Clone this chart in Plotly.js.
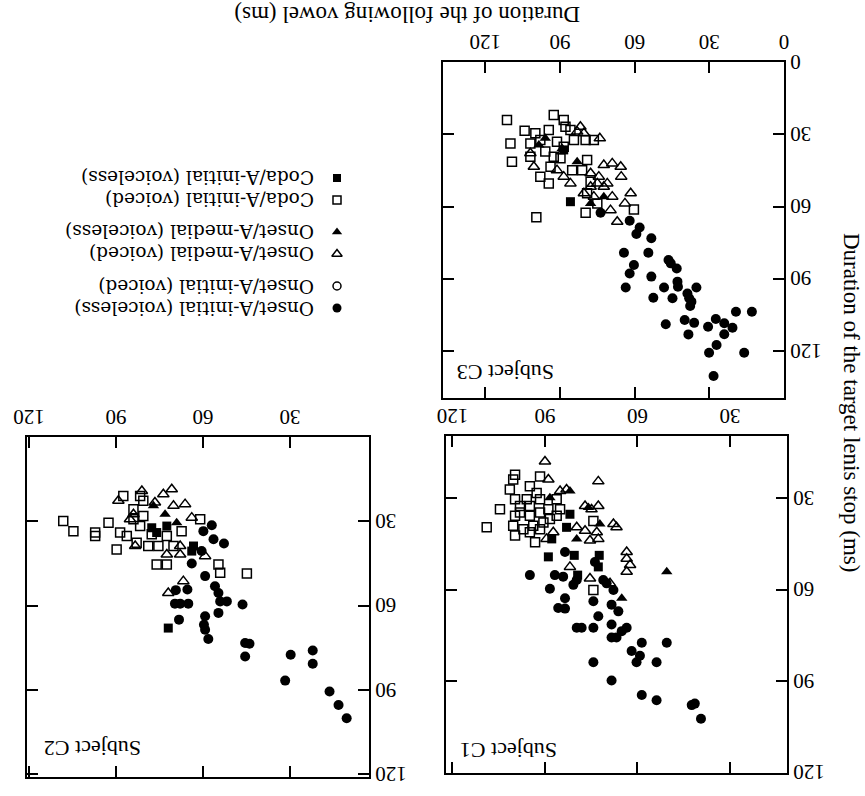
<!DOCTYPE html>
<html>
<head>
<meta charset="utf-8">
<script src="https://cdn.plot.ly/plotly-3.0.1.min.js"></script>
<style>
  html, body { margin: 0; padding: 0; background: white; }
  #chart { width: 865px; height: 796px; transform: rotate(180deg); transform-origin: 50% 50%; }
</style>
</head>
<body>
<div id="chart"></div>
<script>
// ---------------- DATA (x = duration of following vowel, y = duration of lenis stop, ms) ----------------
const categories = [
  "Onset/A-initial (voiceless)",
  "Onset/A-initial (voiced)",
  "Onset/A-medial (voiced)",
  "Onset/A-medial (voiceless)",
  "Coda/A-initial (voiced)",
  "Coda/A-initial (voiceless)"
];
const subjects = ["Subject C1", "Subject C2", "Subject C3"];
const tickVals = [0, 30, 60, 90, 120];

// Subject C1
const c1_onsetInitVoiceless_x = [94.9,88.4,83.5,85.7,83.5,79.7,78.1,74.3,74.3,68.4,68.4,66.8,65.1,63.5,68.4,61.9,60.3,58.6,59.2,53.8,50.5,58.6,53.8,42.4,41.4,39.4,72.7,74.3,68.4,66.2,71.1,70.0,67.8,83.5,86.8,84.1,80.8,79.7,73.8];
const c1_onsetInitVoiceless_y = [55.2,59.7,62.8,66.0,66.2,72.5,72.5,72.5,83.8,89.8,75.7,75.7,73.6,72.5,71.4,80.1,83.8,77.4,81.7,83.8,77.4,94.6,96.3,97.9,97.4,102.4,68.7,63.8,64.9,67.1,56.8,57.9,60.1,47.6,55.2,55.7,58.4,56.8,50.9];
const c1_onsetInitVoiced_x = [];
const c1_onsetInitVoiced_y = [];
const c1_onsetMedVoiced_x = [90.0,72.7,88.9,85.1,83.0,77.0,72.7,74.9,67.8,66.8,79.7,77.0,73.2,72.7,75.4,63.5,63.5,62.4,63.5,75.4,81.9,68.9,89.5,87.3];
const c1_onsetMedVoiced_y = [17.9,24.4,23.8,27.6,27.1,32.5,32.5,33.6,38.4,39.5,39.5,40.6,41.1,43.3,43.8,47.6,49.8,51.9,54.1,56.3,52.5,57.9,43.3,41.1];
const c1_onsetMedVoiceless_x = [50.5,81.9,88.4,75.9,72.2,65.1,79.7];
const c1_onsetMedVoiceless_y = [54.1,27.6,29.8,33.0,38.4,62.8,43.3];
const c1_codaVoiced_x = [99.7,91.6,104.6,108.9,101.4,99.7,94.9,92.7,98.1,94.9,91.6,88.9,99.7,100.3,99.7,97.0,93.8,90.5,86.2,91.6,88.4,85.1,94.9,93.2,74.3,98.1,95.9,91.6,94.9,86.2,74.3,100.3];
const c1_codaVoiced_y = [22.2,22.8,33.6,39.5,27.1,30.3,26.0,28.2,34.6,35.7,34.6,33.6,35.7,39.0,42.2,40.1,39.0,37.9,35.7,30.3,36.8,33.6,32.5,44.4,60.1,32.5,30.3,40.1,41.1,30.3,37.4,23.8];
const c1_codaVoiceless_x = [88.9,80.5,72.4,81.9,87.8,79.4,83.0,72.7];
const c1_codaVoiceless_y = [49.2,48.7,48.7,35.2,43.3,55.2,39.5,52.5];

// Subject C2
const c2_onsetInitVoiceless_x = [10.5,13.3,16.4,22.2,22.2,29.8,31.7,45.5,44.0,45.5,46.4,58.2,59.3,59.3,59.7,54.7,51.8,54.1,54.7,55.9,59.3,63.9,68.3,69.7,67.9,65.1,65.4,69.4,52.8,57.0,56.4,60.5,59.9];
const c2_onsetInitVoiceless_y = [100.1,95.4,90.6,76.0,80.7,77.5,86.7,73.3,73.6,78.1,59.6,71.9,68.6,63.8,66.8,62.6,58.5,58.5,55.5,53.1,49.5,45.0,65.0,59.3,59.3,59.3,54.3,54.5,37.9,31.4,36.4,40.6,33.5];
const c2_onsetInitVoiced_x = [];
const c2_onsetInitVoiced_y = [];
const c2_onsetMedVoiced_x = [70.8,73.7,66.2,76.6,89.2,81.1,66.8,72.0,59.3,67.9,63.9,84.0,70.2,83.4,67.9,72.5,85.2];
const c2_onsetMedVoiced_y = [18.6,20.4,23.9,23.3,22.7,19.2,51.3,55.5,42.4,41.8,28.7,27.5,24.5,38.8,38.8,41.8,29.3];
const c2_onsetMedVoiceless_x = [73.1,77.1,69.1];
const c2_onsetMedVoiceless_y = [27.5,24.5,30.5];
const c2_codaVoiced_x = [44.9,54.7,54.1,108.2,104.7,97.2,97.2,92.6,89.8,88.6,87.5,81.7,80.6,76.0,72.5,78.9,82.9,86.3,84.0,81.7,77.7,75.4,61.0,72.5,70.2,67.4,80.6,84.0];
const c2_codaVoiced_y = [48.6,45.4,48.3,29.9,33.5,34.0,35.2,30.5,40.0,34.0,21.0,21.0,22.7,45.4,45.4,38.8,37.6,35.2,29.3,31.7,34.6,38.8,29.3,35.2,38.8,33.5,28.1,25.7];
const c2_codaVoiceless_x = [72.0,63.9,63.3,76.0,72.5,77.7];
const c2_codaVoiceless_y = [68.0,40.6,38.8,34.0,31.7,32.3];

// Subject C3
const c3_onsetInitVoiceless_x = [62.0,58.0,59.3,53.3,64.3,54.5,60.3,62.0,46.4,45.5,43.1,63.6,53.3,42.8,48.2,35.2,42.6,52.5,44.8,38.8,38.1,37.2,37.7,47.5,39.9,36.1,38.4,30.5,27.4,24.0,20.7,24.0,19.3,12.9,30.1,27.1,16.0,28.3,73.7];
const c3_onsetInitVoiceless_y = [65.9,68.7,71.4,73.2,79.2,79.2,84.3,87.8,82.2,83.6,85.7,93.6,89.1,91.2,93.6,93.6,93.3,97.9,98.1,96.1,98.1,99.5,101.3,108.9,107.1,108.3,113.1,109.9,106.7,108.5,110.3,113.0,103.7,103.7,120.7,117.5,120.7,130.4,62.6];
const c3_onsetInitVoiced_x = [];
const c3_onsetInitVoiced_y = [];
const c3_onsetMedVoiced_x = [81.8,74.0,80.4,72.4,69.0,65.6,65.4,61.6,63.9,67.0,69.7,77.7,75.0,85.8,80.4,72.4,71.0,83.1,101.9,100.5,88.5,74.4,76.4,69.0,77.7,91.2];
const c3_onsetMedVoiced_y = [26.9,31.7,29.6,42.8,42.1,43.5,47.6,54.5,58.7,66.3,61.5,51.8,50.4,50.4,54.5,51.8,50.4,28.9,37.9,43.5,47.6,47.6,55.9,55.9,46.2,44.9];
const c3_onsetMedVoiceless_x = [95.9,89.1,83.1,72.4,77.7,98.5];
const c3_onsetMedVoiceless_y = [31.7,35.9,41.4,55.9,58.7,34.5];
const c3_codaVoiced_x = [111.3,104.2,109.9,109.3,92.5,88.5,87.8,99.5,79.7,60.3,94.5,97.9,95.9,101.9,92.5,89.8,97.9,94.5,88.5,85.1,101.9,84.4,79.7,76.4,79.1,81.1,77.7,79.1,75.0,91.2,85.8,93.8,99.9];
const c3_codaVoiced_y = [24.1,28.5,33.8,41.4,22.0,24.1,26.9,64.5,62.6,61.2,28.2,32.4,37.2,39.3,39.3,40.0,47.6,50.4,35.2,44.9,33.8,32.4,32.4,32.4,40.7,44.9,49.7,54.5,58.7,33.1,28.2,43.5,29.6];
const c3_codaVoiceless_x = [85.8,88.5];
const c3_codaVoiceless_y = [58.0,36.5];

// ---------------- STYLES ----------------
const FONT = '"Liberation Serif", "Times New Roman", serif';
const LEGFONT = '"DejaVu Serif", "Liberation Serif", serif';
const symbols = ['circle', 'circle-open', 'triangle-down-open', 'triangle-down', 'square-open', 'square'];
const sizes = [10, 9, 10, 10, 9, 9];

const seriesBySubject = [
  [[c1_onsetInitVoiceless_x, c1_onsetInitVoiceless_y],[c1_onsetInitVoiced_x, c1_onsetInitVoiced_y],[c1_onsetMedVoiced_x, c1_onsetMedVoiced_y],[c1_onsetMedVoiceless_x, c1_onsetMedVoiceless_y],[c1_codaVoiced_x, c1_codaVoiced_y],[c1_codaVoiceless_x, c1_codaVoiceless_y]],
  [[c2_onsetInitVoiceless_x, c2_onsetInitVoiceless_y],[c2_onsetInitVoiced_x, c2_onsetInitVoiced_y],[c2_onsetMedVoiced_x, c2_onsetMedVoiced_y],[c2_onsetMedVoiceless_x, c2_onsetMedVoiceless_y],[c2_codaVoiced_x, c2_codaVoiced_y],[c2_codaVoiceless_x, c2_codaVoiceless_y]],
  [[c3_onsetInitVoiceless_x, c3_onsetInitVoiceless_y],[c3_onsetInitVoiced_x, c3_onsetInitVoiced_y],[c3_onsetMedVoiced_x, c3_onsetMedVoiced_y],[c3_onsetMedVoiceless_x, c3_onsetMedVoiceless_y],[c3_codaVoiced_x, c3_codaVoiced_y],[c3_codaVoiceless_x, c3_codaVoiceless_y]]
];
const axisIds = [['x','y'],['x2','y2'],['x3','y3']];

function markerFor(ci, size) {
  const open = symbols[ci].indexOf('open') >= 0;
  return {symbol: symbols[ci], size: size, color: 'black',
          line: {color: 'black', width: open ? 1.5 : 0}};
}

const traces = [];
seriesBySubject.forEach((ser, si) => {
  ser.forEach((xy, ci) => {
    traces.push({type: 'scatter', mode: 'markers', name: categories[ci],
      x: xy[0], y: xy[1], xaxis: axisIds[si][0], yaxis: axisIds[si][1],
      marker: markerFor(ci, sizes[ci]), hoverinfo: 'skip', cliponaxis: false});
  });
});

// legend (drawn on a hidden helper axis; positions in pixels of that axis)
const ROW = 22, GROUPGAP = 10, TOP = 18;
const legRowY = categories.map((c, i) => TOP + i * ROW + Math.floor(i / 2) * GROUPGAP);
categories.forEach((c, i) => {
  traces.push({type: 'scatter', mode: 'markers', x: [28], y: [legRowY[i]],
    xaxis: 'x4', yaxis: 'y4', marker: markerFor(i, sizes[i] - 1), hoverinfo: 'skip', cliponaxis: false});
});
const legendAnnotations = categories.map((c, i) => ({
  text: c, xref: 'x4', yref: 'y4', x: 50, y: legRowY[i],
  xanchor: 'left', yanchor: 'middle', align: 'left', showarrow: false, borderpad: 0,
  font: {family: LEGFONT, size: 18.5, color: 'black'}
}));

function ax(extra) {
  return Object.assign({
    showline: true, linecolor: 'black', linewidth: 2, mirror: 'ticks',
    ticks: 'inside', ticklen: 11, tickwidth: 2, tickcolor: 'black',
    showgrid: false, zeroline: false, tickmode: 'array',
    tickfont: {family: FONT, size: 21, color: 'black'}, fixedrange: true
  }, extra);
}
const hidden = {visible: false, showgrid: false, zeroline: false, fixedrange: true};

const W = 865, H = 796;
const layout = {
  width: W, height: H, autosize: false,
  margin: {l: 0, r: 0, t: 0, b: 0, pad: 0},
  paper_bgcolor: 'white', plot_bgcolor: 'rgba(0,0,0,0)',
  showlegend: false,
  font: {family: FONT, color: 'black', size: 21},
  // Subject C1
  xaxis:  ax({domain: [78/W, 419/W], range: [11.5, 122.1], tickvals: tickVals.slice(1), anchor: 'y'}),
  yaxis:  ax({domain: [1-360/H, 1-23/H], range: [9.5, 120.2], tickvals: tickVals.slice(1), anchor: 'x'}),
  // Subject C2
  xaxis2: ax({domain: [496/W, 838/W], range: [2.8, 120.7], tickvals: tickVals.slice(1), anchor: 'y2'}),
  yaxis2: ax({domain: [1-359/H, 1-19/H], range: [0, 121], tickvals: tickVals.slice(1), anchor: 'x2'}),
  // Subject C3
  xaxis3: ax({domain: [81/W, 422/W], range: [0, 137], tickvals: tickVals, anchor: 'y3'}),
  yaxis3: ax({domain: [1-734/H, 1-398/H], range: [0, 139.5], tickvals: tickVals, anchor: 'x3'}),
  // legend helper axis
  xaxis4: Object.assign({domain: [500/W, 860/W], range: [0, 360], anchor: 'y4'}, hidden),
  yaxis4: Object.assign({domain: [1-640/H, 1-470/H], range: [170, 0], anchor: 'x4'}, hidden),
  annotations: [
    {text: subjects[0], xref: 'x domain', yref: 'y domain', x: 0.965, y: 0.932, xanchor: 'right', yanchor: 'middle', showarrow: false, font: {family: FONT, size: 22}},
    {text: subjects[1], xref: 'x2 domain', yref: 'y2 domain', x: 0.956, y: 0.915, xanchor: 'right', yanchor: 'middle', showarrow: false, font: {family: FONT, size: 22}},
    {text: subjects[2], xref: 'x3 domain', yref: 'y3 domain', x: 0.965, y: 0.923, xanchor: 'right', yanchor: 'middle', showarrow: false, font: {family: FONT, size: 22}},
    {text: 'Duration of the following vowel (ms)', xref: 'paper', yref: 'paper', x: 457.5/W, y: 1-781/H, xanchor: 'center', yanchor: 'middle', showarrow: false, font: {family: FONT, size: 23}},
    {text: 'Duration of the target lenis stop (ms)', xref: 'paper', yref: 'paper', x: 13/W, y: 1-394/H, xanchor: 'center', yanchor: 'middle', textangle: -90, showarrow: false, font: {family: FONT, size: 23}}
  ].concat(legendAnnotations)
};

Plotly.newPlot('chart', traces, layout, {displayModeBar: false, staticPlot: true});
</script>
</body>
</html>
